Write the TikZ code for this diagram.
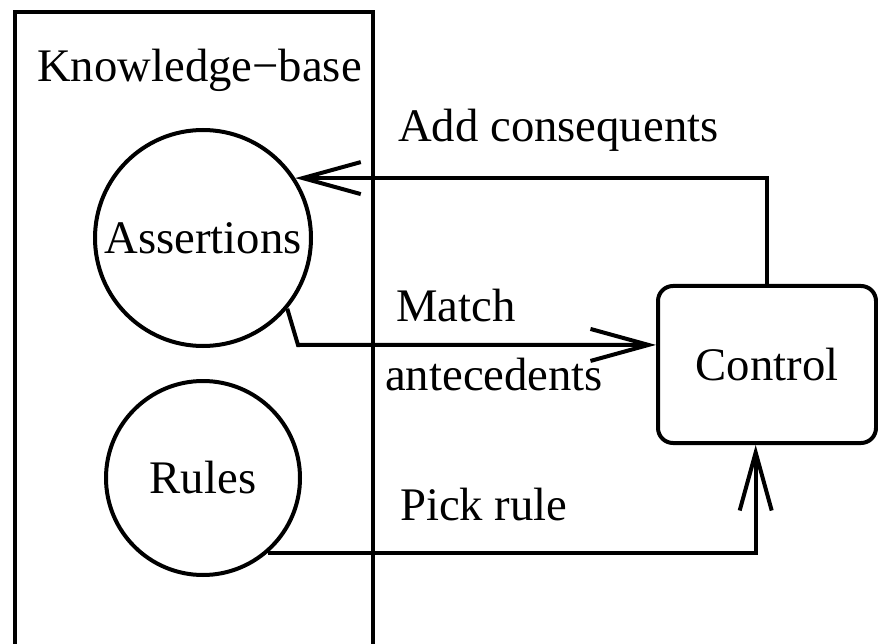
\documentclass[tikz,border=0pt]{standalone}
\usepackage{fontspec}
\setmainfont{Liberation Serif}
\usetikzlibrary{arrows.meta,positioning}

\begin{document}
\begin{tikzpicture}[x=1pt,y=-1pt]
\tikzset{
  kbnode/.style={draw,line width=4pt,font=\fontsize{46.7}{56}\selectfont,inner sep=0pt},
  storenode/.style={kbnode,circle},
  ctrlnode/.style={kbnode,rectangle,rounded corners=15pt,minimum width=218pt,minimum height=157pt},
  flowlabel/.style={font=\fontsize{46.7}{56}\selectfont,inner sep=0pt,anchor=base west},
  flow/.style={line width=4pt,-{Straight Barb[length=58pt,width=32pt]}}
}
\useasboundingbox (0,0) rectangle (878,644);
% knowledge base box, open at the bottom of the page
\node[kbnode,anchor=north west,minimum width=358pt,minimum height=700pt] (n_kb) at (13,10) {};
\node[flowlabel] (l_kb) at (37,82) {Knowledge−base};
\node[storenode,minimum size=216pt] (n_asrt) at (203,238) {Assertions};
\node[storenode,minimum size=194pt] (n_rules) at (203,478) {Rules};
\node[ctrlnode] (n_ctrl) at (767,364.5) {Control};
\node[flowlabel] (l_add) at (398,142) {Add consequents};
\node[flowlabel] (l_match) at (396,322) {Match};
\node[flowlabel] (l_ante) at (385,390) {antecedents};
\node[flowlabel] (l_pick) at (400,520) {Pick rule};
\coordinate (c_bend) at (298,345);
\draw[flow] (n_ctrl.north) |- (n_asrt.33);
\draw[flow] (n_asrt.-40) -- (c_bend) -- (n_ctrl.170);
\draw[flow] (n_rules.-49) -| (n_ctrl.-98);
\end{tikzpicture}
\end{document}
